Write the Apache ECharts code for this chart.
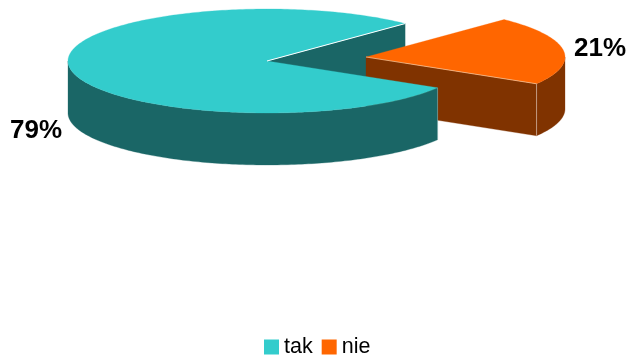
<!DOCTYPE html>
<html>
<head>
<meta charset="utf-8">
<style>html,body{margin:0;padding:0;background:#fff}#c{width:627px;height:356px}</style>
<script src="https://cdn.jsdelivr.net/npm/echarts@6/dist/echarts.min.js"></script>
</head>
<body>
<div id="c"></div>
<script>
var categories = ['tak', 'nie'];
var shares = [78.6, 21.4];
var pieLabels = ['79%', '21%'];

var total = shares[0] + shares[1];
var RX = 199, RY = 52, DEPTH = 52;
var FONT = '"Liberation Sans", Arial, sans-serif';
var START = -31;                                  // where "tak" begins, going clockwise
var CENTER_TAK = [267, 61], CENTER_NIE = [366, 57];
var COLORS = { tak: '#33CCCC', takDark: '#1A6666', nie: '#FF6600', nieDark: '#803300' };

function pt(c, deg, dy) {
  var a = deg * Math.PI / 180;
  return [c[0] + RX * Math.cos(a), c[1] - RY * Math.sin(a) + (dy || 0)];
}
function arc(c, from, to, dy) {
  var out = [], n = Math.max(2, Math.ceil(Math.abs(to - from)));
  for (var i = 0; i <= n; i++) out.push(pt(c, from + (to - from) * i / n, dy));
  return out;
}
function poly(points, fill) {
  return { type: 'polygon', shape: { points: points }, style: { fill: fill, stroke: fill, lineWidth: 0.3 } };
}
function seg(a, b, color, w) {
  return { type: 'line', shape: { x1: a[0], y1: a[1], x2: b[0], y2: b[1] }, style: { stroke: color, lineWidth: w } };
}
function txt(x, y, s) {
  return { type: 'text', style: { x: x, y: y, text: s, fill: '#000', font: 'bold 26px ' + FONT, textAlign: 'left', textVerticalAlign: 'middle' } };
}
// sweep of a share, in degrees
function sweep(v) { return v / total * 360; }

function renderTakBack(params, api) {
  var end = START - sweep(api.value(0));
  var a = CENTER_TAK, p = pt(a, end);
  return { type: 'group', children: [
    poly([a, p, [p[0], p[1] + DEPTH], [a[0], a[1] + DEPTH]], COLORS.takDark)
  ]};
}
function renderNie(params, api) {
  // "nie" runs clockwise from the end of "tak" (angle + 360 keeps it in the upper right)
  var from = START - sweep(shares[0]) + 360, to = from - sweep(api.value(0));
  var a = CENTER_NIE, e = pt(a, to);
  var sideTop = arc(a, 0, to), sideBottom = arc(a, to, 0, DEPTH);
  return { type: 'group', children: [
    poly(sideTop.concat(sideBottom), COLORS.nieDark),
    poly([a, e, [e[0], e[1] + DEPTH], [a[0], a[1] + DEPTH]], COLORS.nieDark),
    poly([a].concat(arc(a, from, to)), COLORS.nie),
    seg(a, e, '#F5C9A0', 0.7),
    seg(e, [e[0], e[1] + DEPTH], '#C09A80', 1),
    txt(574, 49, pieLabels[1])
  ]};
}
function renderTakFront(params, api) {
  var a = CENTER_TAK, end = START - sweep(api.value(0));
  var sideTop = arc(a, START, -180), sideBottom = arc(a, -180, START, DEPTH);
  var p = pt(a, end), q = pt(a, START);
  return { type: 'group', children: [
    poly(sideTop.concat(sideBottom), COLORS.takDark),
    poly([a].concat(arc(a, START, end)), COLORS.tak),
    seg(a, p, '#FFFFFF', 1),
    seg(q, [q[0], q[1] + DEPTH], '#8FB5B5', 0.6),
    txt(10, 131, pieLabels[0])
  ]};
}

function layer(name, value, color, fn) {
  return { type: 'custom', name: name, coordinateSystem: 'none', silent: true, animation: false,
    itemStyle: { color: color }, data: [[value]], renderItem: fn };
}

var chart = echarts.init(document.getElementById('c'), null, { renderer: 'canvas' });
chart.setOption({
  animation: false,
  legend: {
    data: categories, left: 259, top: 331, padding: 5, icon: 'rect',
    itemWidth: 15, itemHeight: 15, itemGap: 9, selectedMode: false,
    textStyle: { fontFamily: FONT, fontSize: 21.5, color: '#000' }
  },
  series: [
    layer(categories[0], shares[0], COLORS.tak, renderTakBack),
    layer(categories[1], shares[1], COLORS.nie, renderNie),
    layer(categories[0], shares[0], COLORS.tak, renderTakFront)
  ]
});
</script>
</body>
</html>
